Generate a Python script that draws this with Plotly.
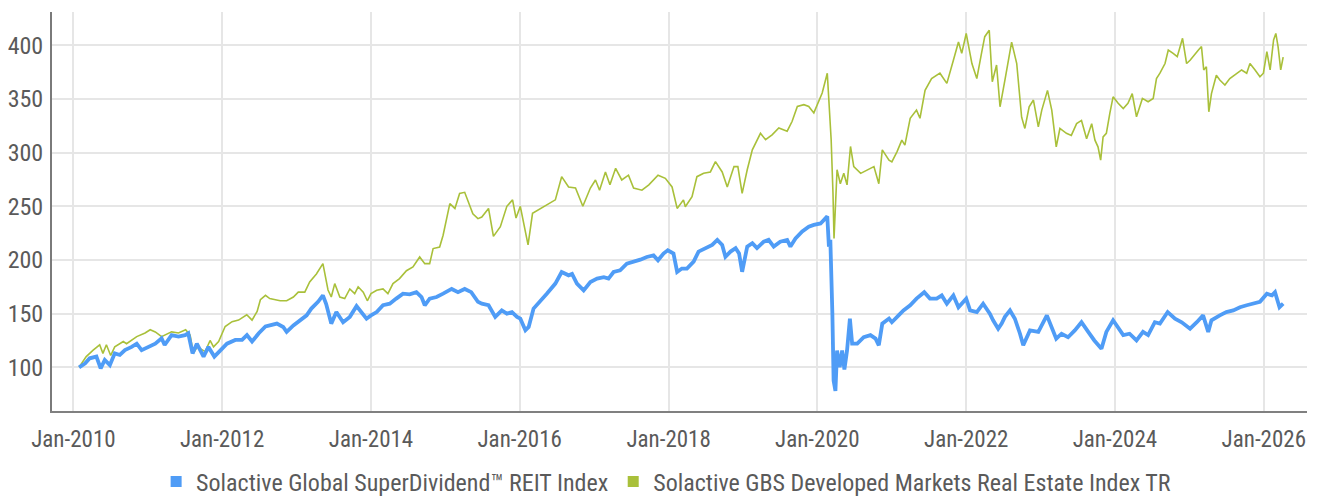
import plotly.graph_objects as go

# ---------------- data ----------------
green_name = "Solactive GBS Developed Markets Real Estate Index TR"
blue_name = "Solactive Global SuperDividend™ REIT Index"

green_dates = [
    "2010-01-29", "2010-03-05", "2010-04-08", "2010-05-10", "2010-05-26", "2010-06-12", "2010-07-03",
    "2010-07-23", "2010-09-03", "2010-09-19", "2010-11-08", "2010-12-19", "2011-01-13", "2011-02-07",
    "2011-03-10", "2011-03-25", "2011-04-28", "2011-06-01", "2011-07-06", "2011-07-28", "2011-08-13",
    "2011-09-01", "2011-09-25", "2011-10-10", "2011-11-03", "2011-11-20", "2011-12-15", "2012-01-16",
    "2012-02-19", "2012-03-22", "2012-05-01", "2012-05-27", "2012-06-21", "2012-07-07", "2012-08-01",
    "2012-08-22", "2012-09-19", "2012-10-12", "2012-11-13", "2012-12-16", "2013-01-09", "2013-02-10",
    "2013-03-06", "2013-04-08", "2013-05-10", "2013-06-04", "2013-06-20", "2013-07-07", "2013-08-01",
    "2013-08-25", "2013-09-19", "2013-10-13", "2013-10-30", "2013-11-24", "2013-12-14", "2014-01-01",
    "2014-01-29", "2014-03-01", "2014-03-25", "2014-04-19", "2014-05-21", "2014-06-24", "2014-07-26",
    "2014-08-28", "2014-09-22", "2014-10-16", "2014-11-02", "2014-12-04", "2014-12-21", "2015-01-23",
    "2015-02-17", "2015-03-12", "2015-04-06", "2015-05-01", "2015-05-16", "2015-06-10", "2015-06-29",
    "2015-08-01", "2015-08-25", "2015-09-28", "2015-10-30", "2015-11-27", "2015-12-14", "2016-01-04",
    "2016-01-25", "2016-02-11", "2016-03-04", "2016-04-11", "2016-05-13", "2016-06-24", "2016-07-25",
    "2016-08-28", "2016-10-01", "2016-11-06", "2016-12-13", "2017-01-07", "2017-01-27", "2017-02-25",
    "2017-03-19", "2017-04-16", "2017-05-16", "2017-06-18", "2017-07-13", "2017-08-23", "2017-09-26",
    "2017-11-10", "2017-12-16", "2018-01-18", "2018-02-12", "2018-03-15", "2018-03-24", "2018-04-26",
    "2018-05-20", "2018-06-22", "2018-07-25", "2018-08-19", "2018-09-21", "2018-10-16", "2018-11-18",
    "2018-12-07", "2018-12-28", "2019-01-22", "2019-02-16", "2019-03-28", "2019-04-22", "2019-05-24",
    "2019-06-26", "2019-08-06", "2019-08-30", "2019-09-25", "2019-10-27", "2019-11-20", "2019-12-15",
    "2020-01-01", "2020-01-25", "2020-02-19", "2020-03-01", "2020-03-09", "2020-03-18", "2020-03-23",
    "2020-04-07", "2020-04-23", "2020-05-10", "2020-05-26", "2020-06-12", "2020-06-28", "2020-08-01",
    "2020-09-02", "2020-10-05", "2020-10-29", "2020-11-15", "2020-12-18", "2021-01-01", "2021-01-26",
    "2021-02-19", "2021-03-06", "2021-04-01", "2021-05-02", "2021-05-19", "2021-06-13", "2021-07-15",
    "2021-08-25", "2021-09-28", "2021-10-30", "2021-11-24", "2021-12-10", "2022-01-01", "2022-01-29",
    "2022-02-22", "2022-03-17", "2022-04-02", "2022-04-24", "2022-05-09", "2022-05-30", "2022-06-16",
    "2022-07-10", "2022-08-12", "2022-09-06", "2022-09-30", "2022-10-16", "2022-11-06", "2022-11-27",
    "2022-12-21", "2023-01-07", "2023-02-04", "2023-02-25", "2023-03-19", "2023-04-06", "2023-05-08",
    "2023-06-01", "2023-06-27", "2023-07-21", "2023-08-15", "2023-09-09", "2023-09-25", "2023-10-10",
    "2023-10-23", "2023-11-04", "2023-11-20", "2023-12-07", "2023-12-23", "2024-01-17", "2024-02-11",
    "2024-03-05", "2024-03-26", "2024-04-16", "2024-05-15", "2024-06-12", "2024-07-07", "2024-07-23",
    "2024-08-09", "2024-09-03", "2024-09-19", "2024-10-13", "2024-11-02", "2024-11-28", "2024-12-18",
    "2025-01-04", "2025-01-24", "2025-02-14", "2025-03-01", "2025-03-12", "2025-03-25", "2025-04-06",
    "2025-04-19", "2025-05-13", "2025-05-30", "2025-06-24", "2025-07-18", "2025-08-20", "2025-09-14",
    "2025-10-09", "2025-10-25", "2025-11-19", "2025-12-13", "2025-12-30", "2026-01-16", "2026-02-01",
    "2026-02-18", "2026-03-01", "2026-03-12", "2026-03-25", "2026-04-06",
]
green_values = [
    100, 110, 116, 121, 113, 121, 111,
    119, 124, 122, 128.6, 132, 135, 133,
    128.6, 130, 133, 132, 135, 130, 113,
    119, 116, 114.6, 125, 119, 124, 138,
    142.5, 144, 149, 144, 152, 163, 167,
    164, 163, 162, 162, 165.5, 170, 170,
    179.5, 187, 196.6, 172, 165.5, 178, 165.5,
    164, 173, 168.6, 175, 170, 162, 168.6,
    171.7, 173, 168.6, 178, 182.6, 190, 193.5,
    202.8, 196.6, 196.6, 210.6, 212, 223, 252.5,
    248, 262, 263, 251, 243, 238.5, 240,
    248, 222, 231, 250, 256, 239, 250,
    231, 214, 243.5, 248, 251, 256, 277.6,
    268, 267, 250, 267, 274.5, 265, 282,
    270, 285.4, 274.5, 279, 267, 265, 270,
    279, 276, 268, 248, 256, 249.6, 259,
    277.6, 280.7, 282, 291.6, 282, 268, 287,
    287, 262, 284, 302.6, 318, 312, 316.6,
    323, 320, 329, 343, 344.7, 343, 337,
    344.7, 355.6, 374, 343, 312, 262, 220,
    284, 271, 280.7, 270, 305.7, 287, 280.7,
    284, 287, 271, 302.6, 293, 291.4, 300.7,
    311.6, 307, 332, 339.6, 332, 358, 369,
    374, 364.5, 386, 403, 392.5, 411, 383,
    369, 392.5, 408, 414, 366, 381.6, 342.7,
    367.6, 403, 383, 333, 322.5, 342.7, 349,
    324, 339.6, 358, 339.6, 305.4, 322.5, 318,
    316, 327, 330, 313, 327, 311.6, 305.4,
    293, 314.7, 318, 336.5, 352, 346, 341,
    346, 355, 333.4, 350.5, 347.4, 350.5, 369,
    374, 383, 395.6, 392.5, 389.4, 406.5, 383,
    386, 391, 395.6, 398.8, 377, 380, 338,
    355, 372, 367.6, 363, 369, 374, 377,
    374, 383, 377, 370.7, 374, 394, 377,
    405, 411, 398.8, 377, 389,
]

blue_dates = [
    "2010-01-29", "2010-02-28", "2010-03-22", "2010-04-24", "2010-05-15", "2010-06-04", "2010-06-29",
    "2010-07-23", "2010-08-17", "2010-09-11", "2010-10-14", "2010-11-08", "2010-12-02", "2011-01-05",
    "2011-02-07", "2011-03-10", "2011-03-25", "2011-04-28", "2011-06-01", "2011-07-03", "2011-07-19",
    "2011-08-09", "2011-08-30", "2011-10-02", "2011-10-26", "2011-11-24", "2011-12-23", "2012-01-25",
    "2012-03-06", "2012-04-08", "2012-05-02", "2012-05-27", "2012-06-29", "2012-08-01", "2012-08-22",
    "2012-09-26", "2012-10-27", "2012-11-13", "2012-12-16", "2013-01-17", "2013-02-19", "2013-03-14",
    "2013-04-16", "2013-05-10", "2013-05-26", "2013-06-20", "2013-07-15", "2013-08-17", "2013-09-19",
    "2013-10-22", "2013-11-16", "2013-12-10", "2014-01-01", "2014-01-29", "2014-03-01", "2014-04-03",
    "2014-05-05", "2014-06-07", "2014-07-10", "2014-08-12", "2014-09-06", "2014-09-22", "2014-10-16",
    "2014-11-19", "2014-12-21", "2015-02-01", "2015-03-04", "2015-04-06", "2015-05-08", "2015-06-10",
    "2015-06-29", "2015-08-01", "2015-09-03", "2015-10-05", "2015-10-30", "2015-11-24", "2015-12-19",
    "2016-01-04", "2016-01-29", "2016-02-14", "2016-03-09", "2016-04-11", "2016-05-13", "2016-06-24",
    "2016-07-25", "2016-08-28", "2016-09-14", "2016-10-08", "2016-11-10", "2016-12-13", "2017-01-15",
    "2017-02-17", "2017-03-12", "2017-04-06", "2017-05-08", "2017-06-10", "2017-07-13", "2017-08-15",
    "2017-09-16", "2017-10-19", "2017-11-10", "2017-12-07", "2017-12-28", "2018-01-25", "2018-02-12",
    "2018-03-07", "2018-04-01", "2018-05-04", "2018-05-28", "2018-07-01", "2018-08-03", "2018-08-28",
    "2018-09-21", "2018-10-07", "2018-11-01", "2018-11-26", "2018-12-13", "2018-12-28", "2019-01-22",
    "2019-02-16", "2019-03-11", "2019-04-13", "2019-05-07", "2019-06-01", "2019-07-03", "2019-08-06",
    "2019-08-22", "2019-09-16", "2019-10-19", "2019-11-20", "2019-12-15", "2020-01-17", "2020-02-19",
    "2020-02-27", "2020-03-05", "2020-03-15", "2020-03-21", "2020-03-30", "2020-04-07", "2020-04-20",
    "2020-05-02", "2020-05-13", "2020-05-26", "2020-06-09", "2020-06-20", "2020-07-15", "2020-08-16",
    "2020-09-18", "2020-10-13", "2020-10-29", "2020-11-15", "2020-12-18", "2021-01-01", "2021-02-03",
    "2021-02-27", "2021-04-01", "2021-05-02", "2021-06-09", "2021-07-07", "2021-08-09", "2021-09-03",
    "2021-09-28", "2021-10-30", "2021-11-24", "2022-01-01", "2022-01-20", "2022-02-22", "2022-03-25",
    "2022-04-27", "2022-05-13", "2022-06-07", "2022-06-24", "2022-07-10", "2022-08-04", "2022-08-28",
    "2022-09-22", "2022-10-08", "2022-11-10", "2022-12-21", "2023-02-01", "2023-02-25", "2023-03-19",
    "2023-04-14", "2023-05-16", "2023-06-18", "2023-07-21", "2023-08-23", "2023-09-22", "2023-10-27",
    "2023-11-20", "2023-12-23", "2024-01-17", "2024-02-11", "2024-03-13", "2024-04-16", "2024-05-18",
    "2024-06-12", "2024-07-15", "2024-08-09", "2024-09-16", "2024-10-22", "2024-11-24", "2025-01-04",
    "2025-02-06", "2025-03-09", "2025-04-03", "2025-04-19", "2025-05-30", "2025-07-01", "2025-08-04",
    "2025-09-06", "2025-10-09", "2025-11-10", "2025-12-13", "2026-01-16", "2026-02-10", "2026-02-25",
    "2026-03-19", "2026-04-06",
]
blue_values = [
    100, 103.7, 108.4, 110, 99, 106.8, 102,
    113, 111.5, 116, 119, 122, 116, 119,
    122, 127, 120.8, 130, 128.6, 130, 131.7,
    113, 122, 110, 119, 110, 116, 122,
    125.5, 125.5, 130, 124, 131.7, 138, 139,
    140.7, 137.6, 133, 139, 144, 148.4, 154.7,
    161, 167, 159, 140.7, 151.5, 142, 147,
    157, 151.5, 145.3, 148.4, 151.5, 157.8, 159.3,
    164, 168.6, 168, 170, 165.5, 157.8, 164,
    165.5, 168.6, 173, 170, 173, 170, 161,
    159.3, 157.8, 147, 153, 150, 151.5, 147,
    145.3, 134.5, 137.6, 154.7, 162.4, 168.6, 178,
    188.8, 185.7, 187, 178, 171.7, 179.5, 182.6,
    184, 182.6, 188.8, 190.4, 196.6, 198, 200.3,
    202.8, 204.3, 199.7, 206, 209, 206, 188.8,
    192, 192, 198.4, 207.8, 211, 214, 218.7,
    214, 203, 207.8, 211, 206, 189, 212.5,
    215.6, 211, 217, 218.7, 212.5, 217, 218.7,
    212.5, 220, 226.5, 231, 232.7, 234, 240.6,
    212.5, 218.7, 150, 87.6, 78, 115.6, 100,
    115.6, 98, 115.6, 145.4, 122, 122, 128,
    130, 126.7, 120.5, 140.7, 145.4, 142, 148.4,
    153, 157.8, 164, 170, 164, 164, 167,
    159.3, 167, 156, 164, 153, 151.5, 159.3,
    150, 143.8, 136, 140.7, 147, 153, 145.3,
    131.3, 120.5, 134.4, 133, 148.4, 137.6, 126.7,
    131.3, 128, 134.4, 142, 133, 125, 117.3,
    133, 143.8, 137.6, 130, 131.3, 125, 133,
    130, 142, 140.7, 151.5, 145.3, 142, 136,
    142, 148.4, 133, 143.8, 148.4, 151.5, 153,
    156, 157.8, 159.3, 161, 168.6, 167, 170,
    156, 159.3,
]

tick_dates = ["2010-01-01", "2012-01-01", "2014-01-01", "2016-01-01",
              "2018-01-01", "2020-01-01", "2022-01-01", "2024-01-01", "2026-01-01"]
tick_labels = ["Jan-2010", "Jan-2012", "Jan-2014", "Jan-2016",
               "Jan-2018", "Jan-2020", "Jan-2022", "Jan-2024", "Jan-2026"]
y_ticks = [100, 150, 200, 250, 300, 350, 400]

# ---------------- styling ----------------
BLUE = "#4f9cf6"
GREEN = "#a9c03a"
FONT = "Liberation Sans Narrow, Roboto Condensed, DejaVu Sans Condensed, sans-serif"
TEXT = "#5a5a5a"
GRID = "#e6e6e6"

fig = go.Figure()
fig.add_trace(go.Scatter(x=green_dates, y=green_values, mode="lines", name=green_name,
                         line=dict(color=GREEN, width=1.6), showlegend=False, hoverinfo="x+y"))
fig.add_trace(go.Scatter(x=blue_dates, y=blue_values, mode="lines", name=blue_name,
                         line=dict(color=BLUE, width=3.8), showlegend=False, hoverinfo="x+y"))
# legend swatches (square markers)
fig.add_trace(go.Scatter(x=[None], y=[None], mode="markers", name=blue_name,
                         marker=dict(symbol="square", size=11, color=BLUE)))
fig.add_trace(go.Scatter(x=[None], y=[None], mode="markers", name=green_name,
                         marker=dict(symbol="square", size=11, color=GREEN)))

# the page body adds an 8px offset, so the figure is 8px smaller and margins compensate
fig.update_layout(
    width=1311, height=488,
    margin=dict(l=44, r=12, t=4, b=85, autoexpand=False),
    paper_bgcolor="white", plot_bgcolor="white",
    font=dict(family=FONT, size=23, color=TEXT),
    showlegend=True,
    legend=dict(orientation="h", xref="container", yref="container",
                x=0.502, xanchor="center", y=0.0287, yanchor="middle",
                font=dict(family=FONT, size=24, color=TEXT),
                itemwidth=30, tracegroupgap=0, bgcolor="rgba(0,0,0,0)"),
    xaxis=dict(type="date", range=["2009-09-18", "2026-08-01"], automargin=False,
               tickmode="array", tickvals=tick_dates, ticktext=tick_labels,
               showgrid=True, gridcolor=GRID, gridwidth=2,
               showline=True, linecolor="#808080", linewidth=2,
               ticks="", ticklabelstandoff=6, zeroline=False,
               tickfont=dict(family=FONT, size=23, color=TEXT)),
    yaxis=dict(range=[59.3, 431], tickmode="array", tickvals=y_ticks, automargin=False,
               showgrid=True, gridcolor=GRID, gridwidth=2,
               showline=True, linecolor="#7a7a7a", linewidth=2,
               ticks="", ticklabelstandoff=2, zeroline=False,
               tickfont=dict(family=FONT, size=24, color=TEXT)),
)

fig.write_html("out.html")
